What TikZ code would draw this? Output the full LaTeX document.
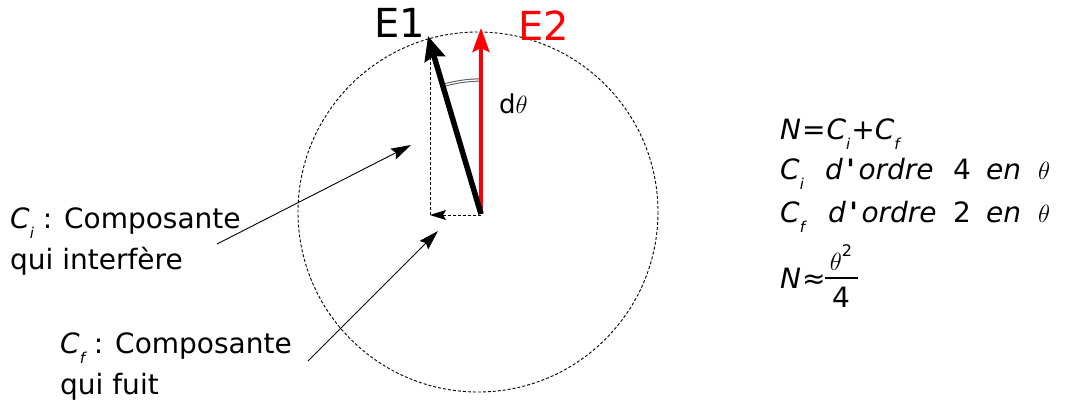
\documentclass[tikz,border=0pt]{standalone}
\usepackage{fontspec}
\setmainfont{DejaVu Sans}
\usetikzlibrary{arrows.meta}
\newcommand\subsc[1]{\raisebox{-0.38em}{\fontsize{15}{15}\selectfont\itshape #1}}
\newcommand\apos{\hspace{3.5pt}{\bfseries\textquotesingle}\hspace{3.5pt}}
\begin{document}
\begin{tikzpicture}[x=1pt,y=-1pt,
  txt/.style={inner sep=0pt, anchor=base west, font=\fontsize{28}{34}\selectfont},
  eq/.style={inner sep=0pt, anchor=base west, font=\fontsize{28}{34}\selectfont\itshape},
  num/.style={inner sep=0pt, anchor=base west, font=\fontsize{28}{34}\selectfont},
  big/.style={inner sep=0pt, anchor=base west, font=\fontsize{40}{48}\selectfont},
  ptr/.style={line width=0.9pt, -{Stealth[length=20pt,width=12pt,inset=3pt]}},
  dsh/.style={line width=0.9pt, dash pattern=on 3pt off 2pt}]
\useasboundingbox (0,0) rectangle (1066,407);
% geometry
\coordinate (C0) at (478,212);
\coordinate (O) at (481,214);
\coordinate (Oh) at (481,215);
\coordinate (T1) at (428,36);
\coordinate (T2) at (481,28);
\coordinate (P) at (430,215);
\coordinate (Q) at (430,49);
\draw[dsh] (C0) circle[radius=180];
\draw[dsh] (P) -- (Q);
\draw[dsh, -{Stealth[length=16pt,width=10pt,inset=3pt]}] (Oh) -- (P);
\draw[draw=black!65, double=white, double distance=1.3pt, line width=1pt]
  (O) ++(253.3:134) arc[start angle=253.3, end angle=270, radius=134];
\draw[red, line width=4pt, -{Stealth[length=24pt,width=17pt,inset=4pt]}] (O) -- (T2);
\draw[line width=5.5pt, -{Stealth[length=24pt,width=21pt,inset=3pt]}] (O) -- (T1);
% labels at vectors
\node[big] (e1) at (374,37) {E1};
\node[big, text=red] (e2) at (518,40) {E2};
\node[inner sep=0pt, anchor=base west, font=\fontsize{26}{30}\selectfont] (dt) at (499,113) {d$\theta$};
% left annotations
\node[txt] (ci1) at (10,228) {\textit{C}\subsc{i} : Composante};
\node[txt] (ci2) at (10,269) {qui interfère};
\node[txt] (cf1) at (60,353) {\textit{C}\subsc{f} : Composante};
\node[txt] (cf2) at (60,394) {qui fuit};
\coordinate (a1s) at (217,244);
\coordinate (a1e) at (411,145);
\coordinate (a2s) at (308,361);
\coordinate (a2e) at (438,231);
\draw[ptr] (a1s) -- (a1e);
\draw[ptr] (a2s) -- (a2e);
% equations
\node[eq] (n1) at (780,139) {N\hspace{1pt}{\upshape =}\hspace{1pt}C\subsc{i}\hspace{1pt}{\upshape +}C\subsc{f}};
\node[eq] (l2a) at (780,179) {C\subsc{i}};
\node[eq] (l2b) at (825,179) {d\apos ordre};
\node[num] (l2c) at (953,179) {4};
\node[eq] (l2d) at (986,179) {en};
\node[eq] (l2e) at (1038,179) {$\theta$};
\node[eq] (l3a) at (780,222) {C\subsc{f}};
\node[eq] (l3b) at (828,222) {d\apos ordre};
\node[num] (l3c) at (953,222) {2};
\node[eq] (l3d) at (986,222) {en};
\node[eq] (l3e) at (1038,222) {$\theta$};
\node[eq] (n4) at (780,288) {N\hspace{1pt}{\upshape ≈}};
\coordinate (bl) at (825,278);
\coordinate (br) at (858,278);
\draw[line width=1.3pt] (bl) -- (br);
\node[inner sep=0pt, anchor=base, font=\fontsize{32}{36}\selectfont] (num) at (841,270) {$\theta$\raisebox{0.42em}{\fontsize{16}{16}\selectfont 2}};
\node[inner sep=0pt, anchor=base, font=\fontsize{28}{34}\selectfont] (den) at (841,307) {4};
\end{tikzpicture}
\end{document}
